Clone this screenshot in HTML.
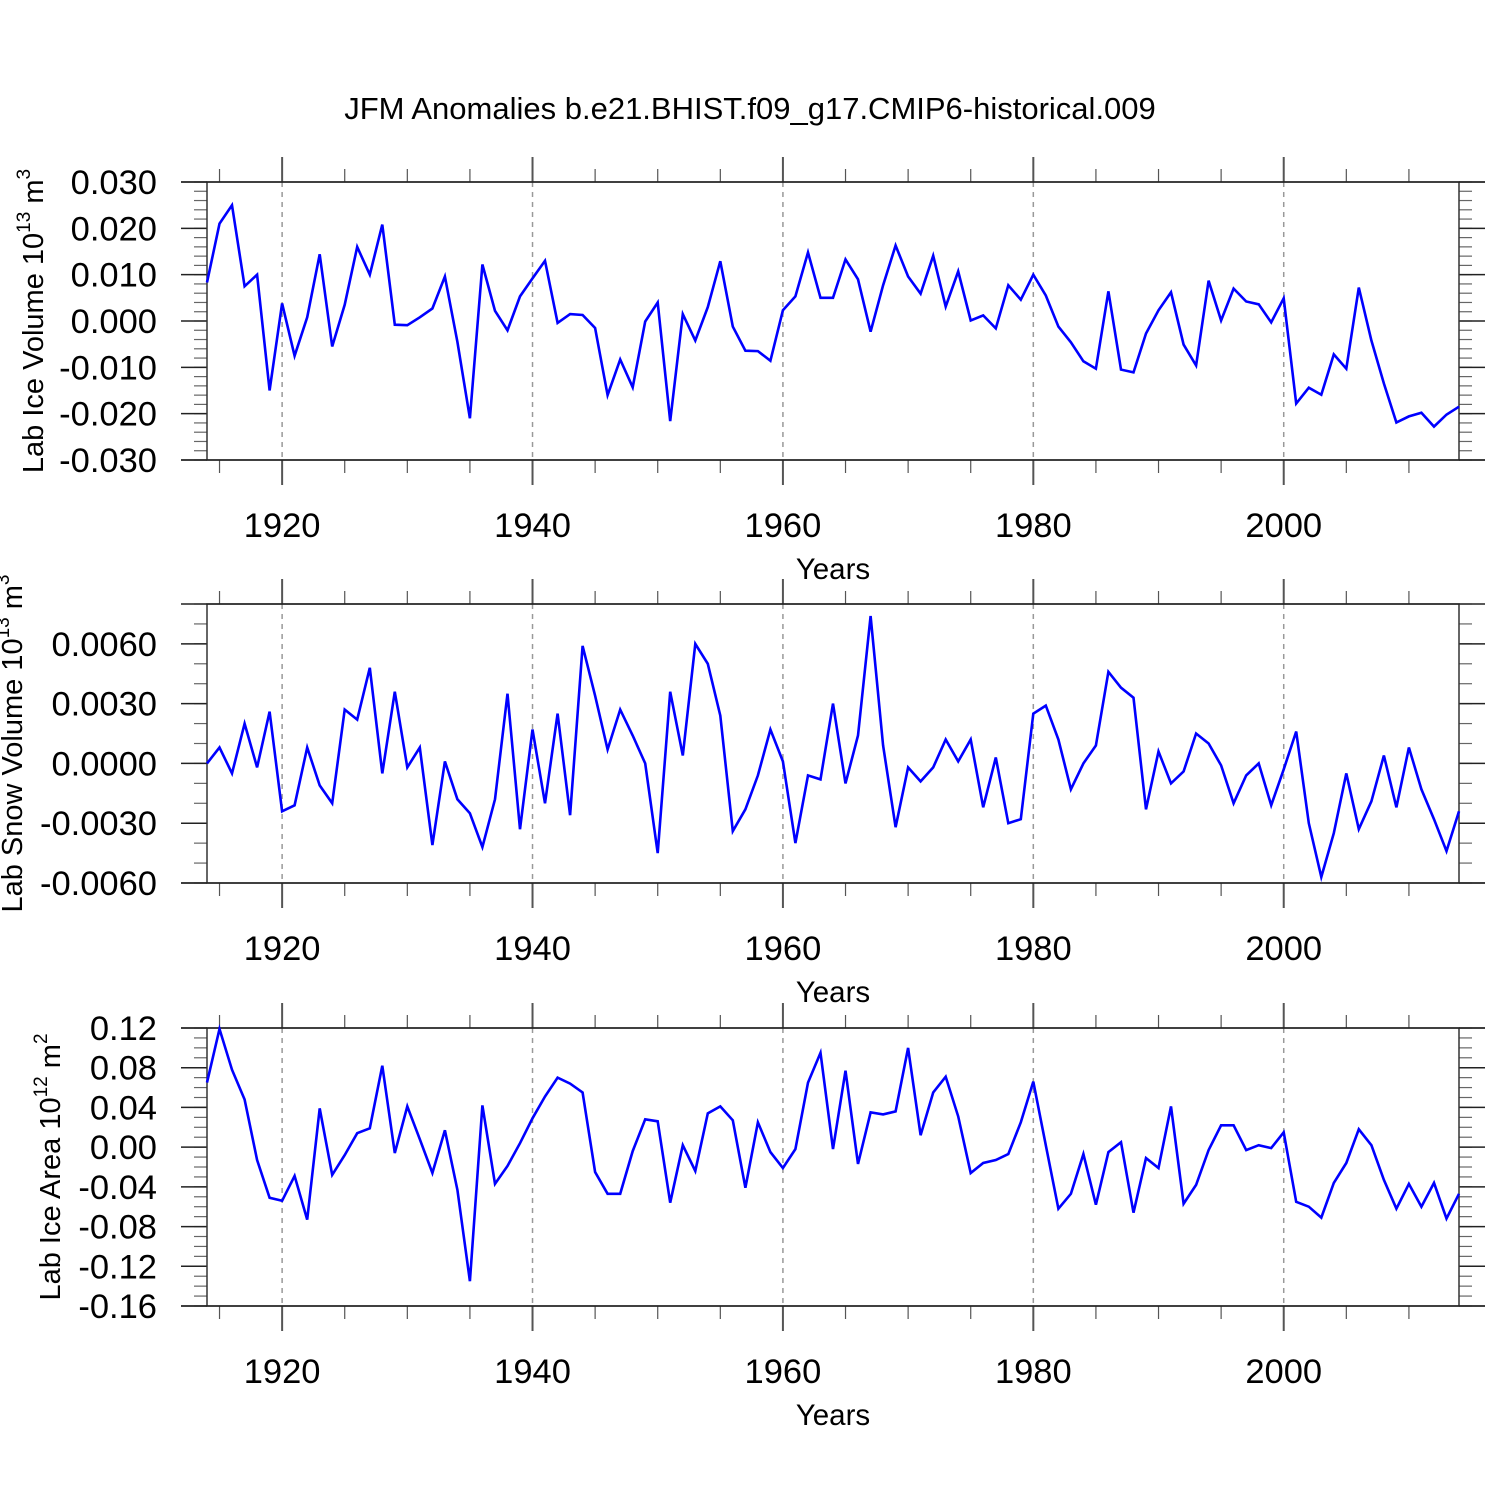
<!DOCTYPE html>
<html><head><meta charset="utf-8"><style>
html,body{margin:0;padding:0;background:#fff;}
svg text{font-family:"Liberation Sans",Arial,sans-serif;fill:#000;}
</style></head><body>
<svg id="chart" width="1500" height="1500" viewBox="0 0 1500 1500" xmlns="http://www.w3.org/2000/svg">
<rect width="1500" height="1500" fill="#fff"/>
<text x="750" y="119" font-size="31" text-anchor="middle">JFM Anomalies b.e21.BHIST.f09_g17.CMIP6-historical.009</text>
</svg>
<script>
const startYear = 1914;
const iceVolume = [0.0083,0.021,0.025,0.0075,0.010,-0.015,0.0038,-0.0075,0.0008,0.0144,-0.0055,0.0035,0.016,0.010,0.0208,-0.0008,-0.0009,0.0008,0.0027,0.0096,-0.0045,-0.021,0.0122,0.0022,-0.002,0.0053,0.0092,0.013,-0.0004,0.0015,0.0013,-0.0015,-0.016,-0.0083,-0.0143,-0.0001,0.004,-0.0216,0.0015,-0.0042,0.003,0.0129,-0.0012,-0.0064,-0.0065,-0.0086,0.0023,0.0053,0.0148,0.005,0.005,0.0133,0.009,-0.0023,0.0077,0.0163,0.0096,0.0059,0.0141,0.0031,0.0107,0.0001,0.0012,-0.0016,0.0077,0.0046,0.01,0.0055,-0.0012,-0.0046,-0.0087,-0.0103,0.0064,-0.0105,-0.0111,-0.0027,0.0023,0.0062,-0.0051,-0.0096,0.0087,0.0001,0.007,0.0042,0.0036,-0.0003,0.0049,-0.0178,-0.0144,-0.0159,-0.0072,-0.0103,0.0072,-0.0042,-0.0135,-0.0219,-0.0206,-0.0198,-0.0228,-0.0202,-0.0185];
const snowVolume = [0,0.0008,-0.0005,0.002,-0.0002,0.0026,-0.0024,-0.0021,0.0008,-0.0011,-0.002,0.0027,0.0022,0.0048,-0.0005,0.0036,-0.0002,0.0008,-0.0041,0.0001,-0.0018,-0.0025,-0.0042,-0.0018,0.0035,-0.0033,0.0017,-0.002,0.0025,-0.0026,0.0059,0.0034,0.0007,0.0027,0.0014,0,-0.0045,0.0036,0.0004,0.006,0.005,0.0024,-0.0034,-0.0023,-0.0006,0.0017,0.0001,-0.004,-0.0006,-0.0008,0.003,-0.001,0.0014,0.0074,0.0009,-0.0032,-0.0002,-0.0009,-0.0002,0.0012,0.0001,0.0012,-0.0022,0.0003,-0.003,-0.0028,0.0025,0.0029,0.0012,-0.0013,0,0.0009,0.0046,0.0038,0.0033,-0.0023,0.0006,-0.001,-0.0004,0.0015,0.001,-0.0001,-0.002,-0.0006,0,-0.0021,-0.0003,0.0016,-0.003,-0.0057,-0.0035,-0.0005,-0.0033,-0.0019,0.0004,-0.0022,0.0008,-0.0013,-0.0028,-0.0044,-0.0024];
const iceArea = [0.065,0.119,0.078,0.048,-0.013,-0.051,-0.054,-0.029,-0.073,0.039,-0.028,-0.008,0.014,0.019,0.082,-0.006,0.041,0.008,-0.026,0.017,-0.043,-0.135,0.042,-0.037,-0.019,0.004,0.029,0.051,0.07,0.064,0.055,-0.025,-0.047,-0.047,-0.004,0.028,0.026,-0.056,0.002,-0.024,0.034,0.041,0.027,-0.041,0.025,-0.005,-0.021,-0.002,0.065,0.095,-0.002,0.077,-0.017,0.035,0.033,0.036,0.1,0.012,0.055,0.071,0.031,-0.026,-0.016,-0.013,-0.007,0.025,0.066,0.002,-0.062,-0.047,-0.007,-0.058,-0.005,0.005,-0.066,-0.011,-0.021,0.041,-0.057,-0.038,-0.003,0.022,0.022,-0.003,0.002,-0.001,0.015,-0.055,-0.06,-0.071,-0.036,-0.016,0.018,0.002,-0.033,-0.062,-0.037,-0.06,-0.036,-0.072,-0.047];
const xTickYears = [1920,1940,1960,1980,2000];
const iceVolTicks = [-0.03,-0.02,-0.01,0,0.01,0.02,0.03];
const iceVolLabels = ["-0.030","-0.020","-0.010","0.000","0.010","0.020","0.030"];
const snowTicks = [-0.006,-0.003,0,0.003,0.006];
const snowLabels = ["-0.0060","-0.0030","0.0000","0.0030","0.0060"];
const areaTicks = [-0.16,-0.12,-0.08,-0.04,0,0.04,0.08,0.12];
const areaLabels = ["-0.16","-0.12","-0.08","-0.04","0.00","0.04","0.08","0.12"];

const NS="http://www.w3.org/2000/svg";
const svg=document.getElementById('chart');
const X0=207,X1=1459,YR0=1914,YR1=2014;
function xs(yr){return X0+(yr-YR0)*(X1-X0)/(YR1-YR0);}
function mk(tag,attrs,parent){const e=document.createElementNS(NS,tag);for(const k in attrs)e.setAttribute(k,attrs[k]);(parent||svg).appendChild(e);return e;}

function panel(key,top,bot,ymin,ymax,ticks,labels,minorStep,data,ylabelMain,ylabelExp,ylabelUnit,ylabX){
  const g=mk('g',{});
  
  
  const ys=v=>bot-(v-ymin)*(bot-top)/(ymax-ymin);
  xTickYears.forEach(yr=>{
    const l=mk('line',{x1:xs(yr),x2:xs(yr),y1:top,y2:bot,stroke:'#999','stroke-width':1.5,'stroke-dasharray':'5,5'},g);
    
    
  });
  for(let yr=1915;yr<=2014;yr+=5){
    const major=yr%20===0;
    const len=major?25:13;
    mk('line',{x1:xs(yr),x2:xs(yr),y1:top,y2:top-len,stroke:'#555','stroke-width':major?2:1.2},g);
    mk('line',{x1:xs(yr),x2:xs(yr),y1:bot,y2:bot+len,stroke:'#555','stroke-width':major?2:1.2},g);
  }
  const n=Math.round((ymax-ymin)/minorStep);
  for(let i=0;i<=n;i++){
    const y=ys(ymin+i*minorStep);
    mk('line',{x1:X0-13,x2:X0,y1:y,y2:y,stroke:'#666','stroke-width':1.2},g);
    mk('line',{x1:X1,x2:X1+13,y1:y,y2:y,stroke:'#666','stroke-width':1.2},g);
  }
  ticks.forEach((v,i)=>{
    const y=ys(v);
    mk('line',{x1:X0-26,x2:X0,y1:y,y2:y,stroke:'#222','stroke-width':1.5},g);
    mk('line',{x1:X1,x2:X1+26,y1:y,y2:y,stroke:'#222','stroke-width':1.5},g);
    const t=mk('text',{x:157,y:y+12,'font-size':34.5,'text-anchor':'end'},g);
    t.textContent=labels[i];
    
    
  });
  const f=mk('rect',{x:X0,y:top,width:X1-X0,height:bot-top,fill:'none',stroke:'#333','stroke-width':1.5},g);
  
  
  mk('line',{x1:X0-26,x2:X1+26,y1:top,y2:top,stroke:'#222','stroke-width':1.5},g);
  mk('line',{x1:X0-26,x2:X1+26,y1:bot,y2:bot,stroke:'#222','stroke-width':1.5},g);
  xTickYears.forEach(yr=>{
    const t=mk('text',{x:xs(yr),y:bot+77,'font-size':34.5,'text-anchor':'middle'},g);
    t.textContent=yr;
    
    
  });
  const xt=mk('text',{x:833,y:bot+119,'font-size':29.5,'text-anchor':'middle'},g);
  xt.textContent='Years';
  
  
  const cy=(top+bot)/2;
  const yt=mk('text',{x:0,y:0,'font-size':29,'text-anchor':'middle',transform:`translate(${ylabX},${cy}) rotate(-90)`},g);
  
  
  const s1=document.createElementNS(NS,'tspan');s1.textContent=ylabelMain;yt.appendChild(s1);
  const s2=document.createElementNS(NS,'tspan');s2.setAttribute('dy','-13');s2.setAttribute('font-size','19');s2.textContent=ylabelExp;yt.appendChild(s2);
  const s3=document.createElementNS(NS,'tspan');s3.setAttribute('dy','13');s3.textContent=ylabelUnit;yt.appendChild(s3);
  const pts=data.map((v,i)=>xs(startYear+i).toFixed(1)+','+ys(v).toFixed(1)).join(' ');
  const pl=mk('polyline',{points:pts,fill:'none',stroke:'#0000ff','stroke-width':2.6,'stroke-linejoin':'miter'},g);
  
  
  return yt;
}
function addSup(t,txt){const s=document.createElementNS(NS,'tspan');s.setAttribute('dy','-13');s.setAttribute('font-size','19');s.textContent=txt;t.appendChild(s);}
const t1=panel('ice-volume',182,460,-0.03,0.03,iceVolTicks,iceVolLabels,0.002,iceVolume,'Lab Ice Volume 10','13',' m',43);addSup(t1,'3');
const t2=panel('snow-volume',604,883,-0.006,0.008,snowTicks,snowLabels,0.001,snowVolume,'Lab Snow Volume 10','13',' m',22);addSup(t2,'3');
const t3=panel('ice-area',1028,1306,-0.16,0.12,areaTicks,areaLabels,0.01,iceArea,'Lab Ice Area 10','12',' m',60);addSup(t3,'2');
</script>
</body></html>
